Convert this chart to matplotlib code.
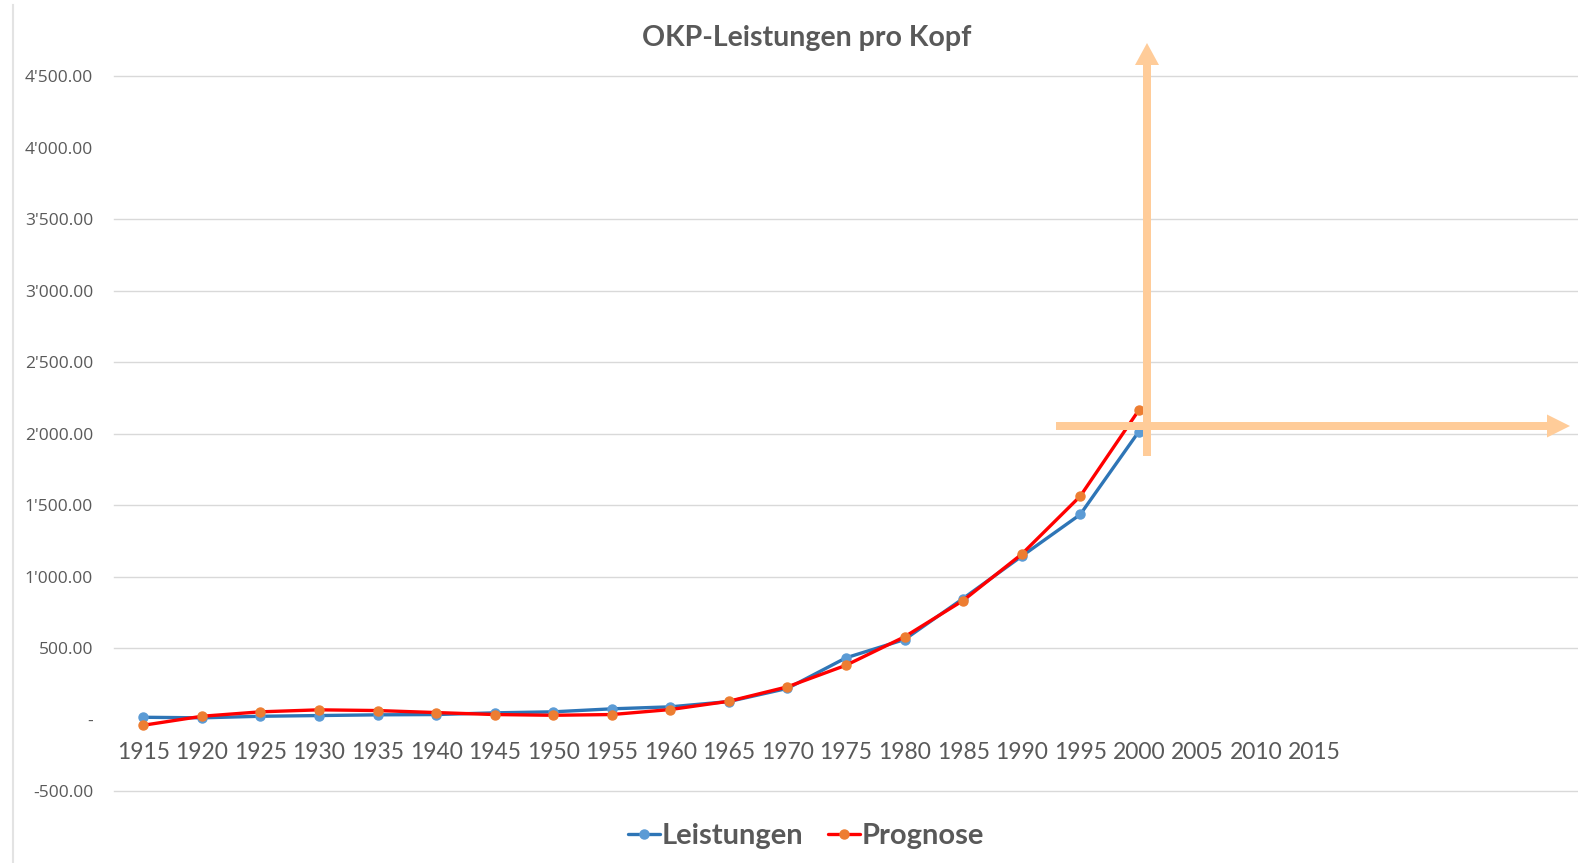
import numpy as np
import matplotlib
matplotlib.use("Agg")
import matplotlib.pyplot as plt
from matplotlib.ticker import FuncFormatter, FixedLocator
from matplotlib.patches import FancyArrow
from matplotlib.lines import Line2D
import matplotlib.transforms as mtransforms

# ---- data ----
categories = ["1915", "1920", "1925", "1930", "1935", "1940", "1945", "1950",
              "1955", "1960", "1965", "1970", "1975", "1980", "1985", "1990",
              "1995", "2000", "2005", "2010", "2015", "", "", "", ""]
leistungen = [16, 12, 23, 28, 33, 35, 47, 54, 75, 89, 126, 218, 432, 560,
              847, 1143, 1435, 2015]
prognose = [-40, 23, 54, 68, 63, 49, 35, 30, 35, 70, 128, 229, 380, 579,
            833, 1157, 1563, 2165]
y_ticks = [-500, 0, 500, 1000, 1500, 2000, 2500, 3000, 3500, 4000, 4500]
grid_values = [-500, 500, 1000, 1500, 2000, 2500, 3000, 3500, 4500]
title = "OKP-Leistungen pro Kopf"
series_names = ["Leistungen", "Prognose"]

W, H = 1578, 863
TXT = "#595959"
fig = plt.figure(figsize=(W / 100, H / 100), dpi=100)
fig.patch.set_facecolor("white")

ax_left, ax_right, ax_top, ax_bottom = 114, 1578, 76.5, 791
ax = fig.add_axes([ax_left / W, 1 - ax_bottom / H,
                   (ax_right - ax_left) / W, (ax_bottom - ax_top) / H])

x_all = np.arange(len(categories))
ax.set_xlim(-0.5, len(categories) - 0.5)
ax.set_ylim(-500, 4500)

for gv in grid_values:
    ax.axhline(gv, color="#D9D9D9", lw=1.0, zorder=0, clip_on=False)

x_data = x_all[:len(leistungen)]
ax.plot(x_data, leistungen, color="#2E75B6", lw=2.4, marker="o", ms=6.5,
        mfc="#5B9BD5", mec="#5B9BD5", label=series_names[0], zorder=3,
        solid_capstyle="round")
ax.plot(x_data, prognose, color="#FF0000", lw=2.4, marker="o", ms=6.5,
        mfc="#ED7D31", mec="#ED7D31", label=series_names[1], zorder=4,
        solid_capstyle="round")

for s in ax.spines.values():
    s.set_visible(False)
ax.spines["bottom"].set_position(("data", 0))

ax.xaxis.set_major_locator(FixedLocator(x_all))
ax.set_xticklabels(categories, fontsize=16.5, color=TXT, family="Lato")
ax.tick_params(axis="x", length=0, pad=16)

def yfmt(v, pos):
    if abs(v) < 1e-9:
        return "-"
    s = f"{v:,.2f}".replace(",", "'")
    return s

ax.yaxis.set_major_locator(FixedLocator(y_ticks))
ax.yaxis.set_major_formatter(FuncFormatter(yfmt))
ax.tick_params(axis="y", length=0, pad=15, labelsize=12.5, labelcolor=TXT)
for lab in ax.get_yticklabels():
    lab.set_family("Open Sans")

# title
fig.text(807 / W, 1 - 38 / H, title, ha="center", va="center",
         fontsize=20.5, fontweight="bold", color=TXT, family="Lato")

# legend
leg = fig.legend(*ax.get_legend_handles_labels(), loc="center",
                 bbox_to_anchor=(806 / W, 1 - 836 / H), ncol=2, frameon=False,
                 handlelength=1.1, handletextpad=0.05, columnspacing=0.85,
                 numpoints=1,
                 prop={"family": "Lato", "weight": "bold", "size": 21})
for t in leg.get_texts():
    t.set_color(TXT)

# left chart border
fig.add_artist(Line2D([13 / W, 13 / W], [0, 1 - 5 / H], color="#E3E3E3",
                      lw=1.5, transform=fig.transFigure))

# arrows (pixel coordinates, origin top-left)
pix = mtransforms.Affine2D().scale(1 / W, -1 / H).translate(0, 1) + fig.transFigure
arrow_col = "#FFCC99"
fig.add_artist(FancyArrow(1147, 456, 0, 43 - 456, width=8, head_width=24,
                          head_length=22, length_includes_head=True,
                          color=arrow_col, lw=0, transform=pix, zorder=5))
fig.add_artist(FancyArrow(1056, 426, 1570 - 1056, 0, width=8, head_width=23,
                          head_length=23, length_includes_head=True,
                          color=arrow_col, lw=0, transform=pix, zorder=5))

fig.savefig("out.png", dpi=100, facecolor="white")
